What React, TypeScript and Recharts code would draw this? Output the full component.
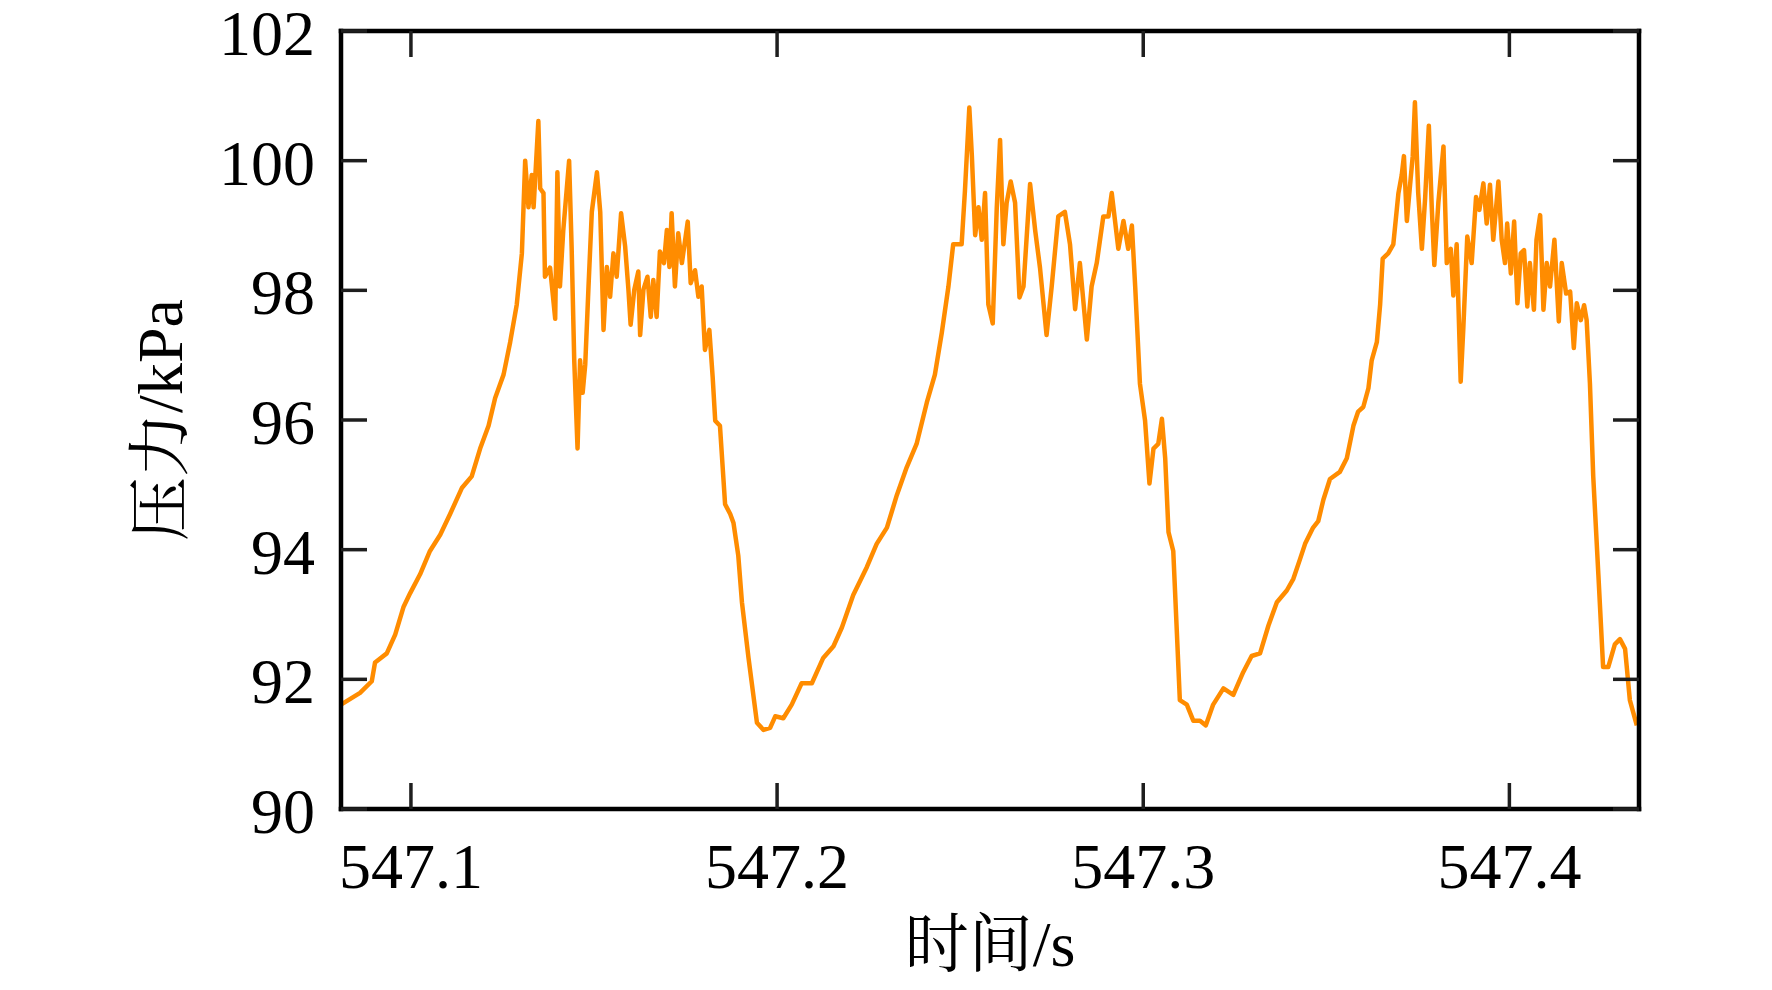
import React from 'react';
import { LineChart, Line, XAxis, YAxis } from 'recharts';

// time (s)
const timeS = [
  547.0809, 547.0861, 547.0893, 547.0902, 547.0934, 547.0957, 547.0980, 547.0998, 547.1025, 547.1052,
  547.1080, 547.1107, 547.1139, 547.1166, 547.1189, 547.1212, 547.1230, 547.1253, 547.1271, 547.1289,
  547.1303, 547.1312, 547.1321, 547.1330, 547.1335, 547.1348, 547.1353, 547.1362, 547.1366, 547.1380,
  547.1394, 547.1400, 547.1407, 547.1416, 547.1432, 547.1439, 547.1446, 547.1455, 547.1462, 547.1469,
  547.1476, 547.1485, 547.1494, 547.1508, 547.1517,
  547.1526, 547.1535, 547.1544, 547.1553, 547.1562, 547.1574, 547.1585, 547.1594, 547.1600, 547.1610,
  547.1621, 547.1626, 547.1635, 547.1646, 547.1655, 547.1662, 547.1671, 547.1680, 547.1691, 547.1699,
  547.1706, 547.1712, 547.1721, 547.1730, 547.1740, 547.1756, 547.1764, 547.1776, 547.1785, 547.1794,
  547.1803, 547.1815, 547.1824,
  547.1831, 547.1844, 547.1858, 547.1872, 547.1881, 547.1894, 547.1904, 547.1922, 547.1945, 547.1963,
  547.1981, 547.1995, 547.2017, 547.2040, 547.2067, 547.2095, 547.2126, 547.2154, 547.2177, 547.2208,
  547.2245, 547.2272, 547.2300, 547.2327, 547.2354, 547.2381, 547.2409, 547.2431, 547.2450, 547.2468,
  547.2481, 547.2504, 547.2513, 547.2525, 547.2532, 547.2541, 547.2550, 547.2559,
  547.2568, 547.2577, 547.2589, 547.2600, 547.2609, 547.2618, 547.2627, 547.2638, 547.2650, 547.2662,
  547.2673, 547.2691, 547.2705, 547.2718, 547.2736, 547.2750, 547.2768, 547.2786, 547.2800, 547.2814,
  547.2827, 547.2846, 547.2859, 547.2873, 547.2891, 547.2905, 547.2914, 547.2932, 547.2946, 547.2959,
  547.2969, 547.2978, 547.2991, 547.3005, 547.3017, 547.3028, 547.3041, 547.3051, 547.3060, 547.3069,
  547.3082, 547.3091, 547.3100, 547.3119, 547.3137, 547.3155, 547.3171, 547.3191, 547.3219, 547.3246,
  547.3273, 547.3296, 547.3319, 547.3342, 547.3365, 547.3392, 547.3410,
  547.3428, 547.3442, 547.3464, 547.3478, 547.3492, 547.3510, 547.3537, 547.3556, 547.3574, 547.3587,
  547.3601, 547.3615, 547.3624, 547.3638, 547.3647, 547.3654, 547.3669, 547.3683, 547.3697, 547.3706,
  547.3712, 547.3720, 547.3729, 547.3736, 547.3742, 547.3751, 547.3761, 547.3770, 547.3780, 547.3788,
  547.3795, 547.3806, 547.3820, 547.3829, 547.3840, 547.3847, 547.3856, 547.3867,
  547.3874, 547.3885, 547.3897, 547.3909, 547.3918, 547.3929, 547.3938, 547.3947, 547.3956, 547.3970,
  547.3979, 547.3988, 547.3994, 547.4004, 547.4013, 547.4022, 547.4031, 547.4040, 547.4049, 547.4056,
  547.4067, 547.4074, 547.4084, 547.4093, 547.4102, 547.4111, 547.4123, 547.4135, 547.4143, 547.4155,
  547.4166, 547.4176, 547.4184, 547.4195, 547.4204, 547.4211,
  547.4220, 547.4229, 547.4243, 547.4256, 547.4270, 547.4288, 547.4302, 547.4316, 547.4329, 547.4348,
];

// pressure (kPa)
const pressureKPa = [
  91.61, 91.79, 91.97, 92.26, 92.40, 92.69, 93.12, 93.33, 93.62, 93.98,
  94.23, 94.55, 94.95, 95.13, 95.56, 95.91, 96.34, 96.70, 97.20, 97.78,
  98.57, 100.0, 99.28, 99.78, 99.28, 100.61, 99.57, 99.50, 98.21, 98.35,
  97.56, 99.82, 98.06, 98.92, 100.0, 98.64, 96.92, 95.56, 96.92, 96.42,
  96.85, 98.06, 99.21, 99.82, 99.21,
  97.39, 98.36, 97.90, 98.57, 98.21, 99.19, 98.68, 98.01, 97.47, 98.01,
  98.29, 97.31, 98.01, 98.21, 97.59, 98.16, 97.59, 98.60, 98.42, 98.93,
  98.36, 99.19, 98.06, 98.88, 98.42, 99.06, 98.11, 98.31, 97.90, 98.06,
  97.08, 97.39, 96.67,
  95.99, 95.91, 94.70, 94.55, 94.41, 93.91, 93.19, 92.33, 91.33, 91.22,
  91.25, 91.43, 91.40, 91.61, 91.94, 91.94, 92.33, 92.51, 92.80, 93.30,
  93.73, 94.09, 94.34, 94.84, 95.27, 95.63, 96.27, 96.70, 97.35, 98.06,
  98.71, 98.71, 99.53, 100.82, 100.07, 98.85, 99.28, 98.78,
  99.50, 97.78, 97.49, 99.28, 100.32, 98.71, 99.35, 99.68, 99.35, 97.89,
  98.06, 99.64, 98.92, 98.35, 97.31, 98.06, 99.14, 99.21, 98.71, 97.71,
  98.42, 97.24, 98.06, 98.42, 99.14, 99.14, 99.50, 98.64, 99.07, 98.64,
  99.00, 98.06, 96.56, 95.99, 95.02, 95.56, 95.63, 96.02, 95.41, 94.27,
  93.98, 92.83, 91.68, 91.61, 91.36, 91.36, 91.29, 91.61, 91.86, 91.76,
  92.11, 92.36, 92.40, 92.83, 93.19, 93.37, 93.55,
  93.85, 94.09, 94.34, 94.44, 94.77, 95.09, 95.20, 95.41, 95.91, 96.13,
  96.20, 96.49, 96.92, 97.20, 97.78, 98.49, 98.57, 98.71, 99.50, 99.78,
  100.07, 99.07, 99.64, 100.07, 100.90, 99.50, 98.64, 99.43, 100.54, 99.28,
  98.39, 99.35, 100.22, 98.42, 98.64, 97.92, 98.71, 96.59,
  97.39, 98.83, 98.42, 99.44, 99.24, 99.65, 99.03, 99.63, 98.78, 99.68,
  98.78, 98.42, 99.03, 98.26, 99.06, 97.80, 98.57, 98.62, 97.75, 98.42,
  97.70, 98.78, 99.16, 97.70, 98.42, 98.06, 98.78, 97.52, 98.42, 97.95,
  97.98, 97.11, 97.80, 97.54, 97.77, 97.54,
  96.56, 95.13, 93.62, 92.19, 92.19, 92.54, 92.62, 92.47, 91.68, 91.29,
];

const xTicks = [547.1, 547.2, 547.3, 547.4];
const yTicks = [90, 92, 94, 96, 98, 100, 102];
const xDomain = [547.0809, 547.4354];
const yDomain = [90, 102];
const xLabel = '时间/s';
const yLabel = '压力/kPa';

const data = timeS.map((t, i) => ({ t, p: pressureKPa[i] }));

const FONT = '"Liberation Serif", "Times New Roman", "Noto Serif CJK SC", "Noto Sans CJK SC", serif';
const TICK_LEN = 26;
const TICK_STROKE = '#1e1e1e';
const TICK_W = 3.5;
const FS = 64;
const AXIS_LINE = { stroke: '#000', strokeWidth: 4.5, strokeLinecap: 'square' as const };

const BottomTick = (props: any) => {
  const { x, y, payload } = props;
  return (
    <g>
      <line x1={x} x2={x} y1={y} y2={y - TICK_LEN} stroke={TICK_STROKE} strokeWidth={TICK_W} />
      <text x={x} y={y + 79} textAnchor="middle" fontSize={FS} fontFamily={FONT} fill="#000">
        {Number(payload.value).toFixed(1)}
      </text>
    </g>
  );
};

const TopTick = (props: any) => {
  const { x, y } = props;
  return <line x1={x} x2={x} y1={y} y2={y + TICK_LEN} stroke={TICK_STROKE} strokeWidth={TICK_W} />;
};

const LeftTick = (props: any) => {
  const { x, y, payload } = props;
  return (
    <g>
      <line x1={x} x2={x + TICK_LEN} y1={y} y2={y} stroke={TICK_STROKE} strokeWidth={TICK_W} />
      <text x={x - 26} y={y + 24} textAnchor="end" fontSize={FS} fontFamily={FONT} fill="#000">
        {String(payload.value)}
      </text>
    </g>
  );
};

const RightTick = (props: any) => {
  const { x, y } = props;
  return <line x1={x} x2={x - TICK_LEN} y1={y} y2={y} stroke={TICK_STROKE} strokeWidth={TICK_W} />;
};

const XLabelContent = () => (
  <text x={990} y={966} textAnchor="middle" fontSize={FS} fontFamily={FONT} fill="#000">
    {xLabel}
  </text>
);

const YLabelContent = () => (
  <text
    transform="translate(182, 420) rotate(-90)"
    x={0}
    y={0}
    textAnchor="middle"
    fontSize={FS}
    fontFamily={FONT}
    fill="#000"
  >
    {yLabel}
  </text>
);

export default function App() {
  return (
    <div style={{ position: 'absolute', left: 0, top: 0, width: 1772, height: 990, background: '#fff' }}>
      <LineChart
        width={1772}
        height={990}
        data={data}
        margin={{ top: 0, right: 0, bottom: 0, left: 0 }}
      >
        <XAxis
          xAxisId="bottom"
          dataKey="t"
          type="number"
          orientation="bottom"
          domain={xDomain}
          ticks={xTicks}
          interval={0}
          allowDataOverflow
          height={181}
          tickSize={0}
          tickMargin={0}
          tickLine={false}
          axisLine={AXIS_LINE}
          tick={BottomTick}
          label={XLabelContent}
        />
        <XAxis
          xAxisId="top"
          dataKey="t"
          type="number"
          orientation="top"
          domain={xDomain}
          ticks={xTicks}
          interval={0}
          allowDataOverflow
          height={31}
          tickSize={0}
          tickMargin={0}
          tickLine={false}
          axisLine={AXIS_LINE}
          tick={TopTick}
        />
        <YAxis
          yAxisId="left"
          type="number"
          orientation="left"
          domain={yDomain}
          ticks={yTicks}
          interval={0}
          allowDataOverflow
          width={341}
          tickSize={0}
          tickMargin={0}
          tickLine={false}
          axisLine={AXIS_LINE}
          tick={LeftTick}
          label={YLabelContent}
        />
        <YAxis
          yAxisId="right"
          type="number"
          orientation="right"
          domain={yDomain}
          ticks={yTicks}
          interval={0}
          allowDataOverflow
          width={133}
          tickSize={0}
          tickMargin={0}
          tickLine={false}
          axisLine={AXIS_LINE}
          tick={RightTick}
        />
        <Line
          xAxisId="bottom"
          yAxisId="left"
          type="linear"
          dataKey="p"
          stroke="#FF8C00"
          strokeWidth={4.5}
          strokeLinejoin="round"
          dot={false}
          activeDot={false}
          isAnimationActive={false}
        />
      </LineChart>
    </div>
  );
}
